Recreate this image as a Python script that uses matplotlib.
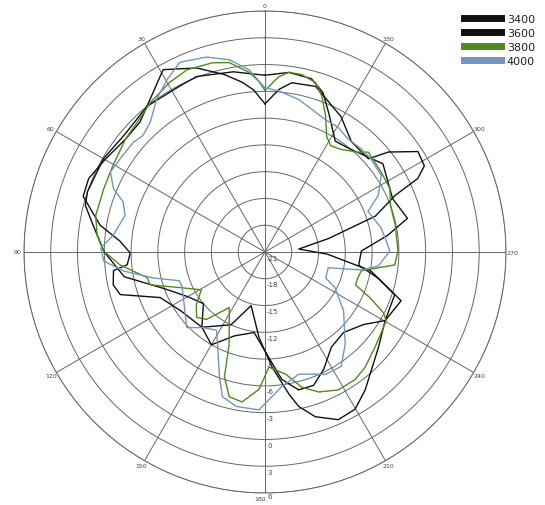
import numpy as np
import matplotlib.pyplot as plt

# radiation pattern, dB vs angle (deg, counter-clockwise from top)
ang_3400 = [0, 4, 7.7, 12.9, 20.4, 29.2, 37, 43.9, 51, 60, 67.4, 73, 80.8, 85.7, 90.4, 95.3, 97, 102.2,
            106.4, 113.5, 125, 140, 155, 165.5, 176, 183.5, 189.5, 192.3, 197, 203.6, 209.8, 216, 230,
            240.3, 250.3, 260, 268, 275, 282, 288, 293.5, 295.7, 298.4, 303.3, 309, 312, 321.9, 330.7,
            343, 351, 355]
db_3400 = [-4.4, -2.8, -1.8, -0.6, 1.0, 2.4, 0.4, -0.8, -0.9, -0.3, 0.4, 0.3, -2.3, -4.7, -5.9, -5.5, -3.9, -3.6,
           -4.1, -8.2, -9.5, -10.0, -12.0, -14.8, -11.4, -8.1, -4.9, -3.3, -1.7, -0.5, -0.7, -1.9, -4.4,
           -5.5, -4.8, -9.0, -14.0, -17.2, -13.7, -8.0, -5.1, -2.0, -0.7, -0.5, -3.2, -5.4, -5.3, -3.6,
           -1.6, -1.8, -2.7]

ang_3600 = [0, 10, 21.3, 27.2, 39, 50, 60, 71.2, 75.4, 81.1, 90, 100, 110, 120, 130, 140, 150, 160, 172.3,
            182, 187.5, 193.7, 200, 206.6, 214.9, 224.3, 233.6, 240.3, 251.8, 257, 262, 270.6, 277.8, 283.3,
            292.7, 306.8, 320, 327.6, 335, 340, 345, 352.4]
db_3600 = [-1.2, -0.5, 0.1, -0.1, 0.0, -0.5, -0.1, 0.0, -0.2, -1.5, -3.0, -5.0, -9.0, -11.0, -12.0, -10.0, -9.0, -11.0, -11.9,
           -9.2, -6.6, -5.1, -5.1, -6.3, -8.0, -8.4, -7.3, -5.5, -5.7, -8.0, -10.4, -10.2, -7.1, -4.6,
           -5.5, -4.5, -6.0, -6.3, -4.0, -2.0, -0.9, -0.7]

ang_3800 = [0, 2, 5, 10.7, 15.5, 23.2, 29.3, 37.5, 44.6, 48.3, 51, 60.4, 68.6, 77.8, 84.3, 89.6, 95.1, 102.3,
            105.9, 113.4, 120.7, 127.5, 133.7, 139, 147.3, 158.8, 162, 166.1, 171.3, 177.5, 182, 189.7,
            195.2, 201, 208, 215.2, 221, 229.1, 234.6, 240.5, 242.9, 246.5, 250, 254.5, 259, 264.3, 270.4,
            281.6, 290.3, 297, 304.7, 314, 317, 323.5, 328.3, 332, 336, 340, 343.4, 348.3, 352.4, 355.5]
db_3800 = [-2.9, -1.9, -0.8, 0.6, 1.0, 1.2, 0.8, 0.1, -0.6, -0.8, -0.9, -1.4, -1.6, -1.6, -2.1, -2.9, -4.7, -7.5,
           -7.6, -10.9, -12.7, -11.3, -10.4, -11.0, -13.6, -9.9, -6.3, -4.3, -4.0, -5.6, -8.1, -7.1,
           -5.3, -4.2, -3.5, -3.5, -3.9, -4.7, -5.1, -5.4, -6.1, -8.2, -10.2, -10.2, -10.0, -6.4, -6.1,
           -6.1, -6.0, -5.3, -5.2, -4.9, -5.7, -6.7, -7.0, -6.3, -4.3, -2.4, -1.2, -0.7, -0.7, -1.3]

ang_4000 = [0, 5, 10.5, 16.7, 24.2, 29.6, 35.3, 41.5, 46.4, 50.2, 57.2, 62.6, 67.3, 70.4, 75.3, 83.7, 88.6,
            93.2, 97.6, 103, 108.6, 113.4, 126, 134, 140.3, 148.2, 152.7, 160, 163.6, 169.5, 177.8, 187.1,
            195.5, 206.4, 213.6, 221, 233.2, 243, 246.9, 256, 259.5, 263, 270.5, 281.6, 291.5, 296.6,
            303.4, 311.3, 317, 323.6, 329.6, 335.5, 347.5, 355]
db_4000 = [-2.6, -0.5, 0.9, 1.8, 2.3, 1.2, 0.0, -1.6, -2.1, -1.8, -1.7, -1.5, -2.6, -4.1, -4.8, -3.9, -2.6,
           -2.9, -5.0, -8.1, -10.9, -10.9, -9.9, -8.8, -10.0, -10.7, -9.4, -6.1, -4.1, -3.4, -3.3, -5.8,
           -6.8, -5.7, -5.6, -7.3, -10.0, -12.2, -13.6, -13.7, -10.0, -8.2, -7.0, -7.7, -8.6, -6.8,
           -5.4, -5.2, -5.2, -5.3, -4.8, -4.7, -3.5, -2.9]

angle_ticks = list(range(0, 360, 30))
db_ticks = list(range(-21, 7, 3))

series = [
    ("3400", ang_3400, db_3400, "#111111"),
    ("3600", ang_3600, db_3600, "#111111"),
    ("3800", ang_3800, db_3800, "#4f8a1f"),
    ("4000", ang_4000, db_4000, "#7396bb"),
]

fig = plt.figure(figsize=(5.45, 5.06), dpi=100)
ax = fig.add_axes([0.0440, 0.0237, 0.8844, 0.9526], projection="polar")
ax.set_theta_zero_location("N")
ax.set_theta_direction(1)
ax.set_ylim(-21, 6)

for name, a, v, c in series:
    th = np.deg2rad(a + [a[0] + 360])
    ax.plot(th, v + [v[0]], color=c, lw=1.0, label=name)

# radial labels along the 180 spoke
ax.set_yticks(db_ticks)
ax.set_yticklabels([])
for r in db_ticks:
    dy = -4 if r < 6 else -2.5
    ax.annotate(str(r), xy=(np.pi, r), xytext=(1.5, dy), textcoords="offset points",
                fontsize=5, color="#444444", ha="left", va="center")

# angle labels just outside the outer ring
ax.set_xticks(np.deg2rad(angle_ticks))
ax.set_xticklabels([])
for t in angle_ticks:
    rad = np.deg2rad(t)
    ox, oy = -4.5 * np.sin(rad), 4.0 * np.cos(rad)
    ha = "center"
    if t == 180:
        ox, ha = 0.5, "right"
    ax.annotate(str(t), xy=(rad, 6), xytext=(ox, oy), textcoords="offset points",
                fontsize=4.5, color="#444444", ha=ha, va="center")

ax.grid(True, color="#666666", lw=0.7)
ax.spines["polar"].set_color("#666666")
ax.spines["polar"].set_linewidth(0.7)

handles = ax.get_lines()
leg = fig.legend(handles, [s[0] for s in series], loc="upper right",
                 bbox_to_anchor=(1.0, 0.99), frameon=False, fontsize=8,
                 handlelength=3.4, labelspacing=0.35, handletextpad=0.5)
for ln in leg.get_lines():
    ln.set_linewidth(5)
for t in leg.get_texts():
    t.set_color("#222222")

fig.savefig("out.png", dpi=100)
